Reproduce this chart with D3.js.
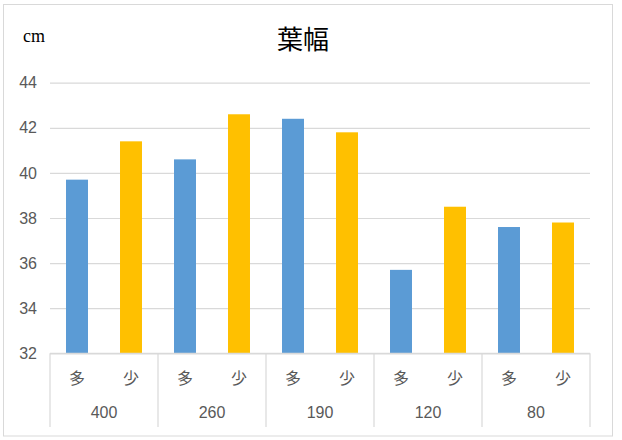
<!DOCTYPE html>
<html>
<head>
<meta charset="utf-8">
<script src="https://cdn.jsdelivr.net/npm/d3@7/dist/d3.min.js"></script>
<style>
  html, body { margin: 0; padding: 0; background: #fff; }
  svg { display: block; }
</style>
</head>
<body>
<svg id="chart" width="622" height="440"></svg>
<script>
// Leaf width (cm) by planting density group and amount
const groups = ["400", "260", "190", "120", "80"];
const series = ["多", "少"];
const valuesMany = [39.7, 40.6, 42.4, 35.7, 37.6];
const valuesFew  = [41.4, 42.6, 41.8, 38.5, 37.8];
const yTicks = [32, 34, 36, 38, 40, 42, 44];
const colors = ["#5B9BD5", "#FFC000"];

const rows = groups.map((g, i) => ({ group: g, vals: [valuesMany[i], valuesFew[i]] }));

const svg = d3.select("#chart");
const plotLeft = 50, plotRight = 590, plotTop = 82.7, plotBottom = 353.3, axisBottom = 427;
const textColor = "#595959";
const gridColor = "#D9D9D9";
const font = "'Liberation Sans', Arial, sans-serif";

// chart frame
svg.append("rect")
  .attr("x", 3.5).attr("y", 4.5).attr("width", 609).attr("height", 431.5)
  .attr("fill", "#fff").attr("stroke", "#D9D9D9").attr("stroke-width", 1);

const x = d3.scaleBand().domain(groups).range([plotLeft, plotRight]).padding(0);
const xs = d3.scaleBand().domain(series).range([0, x.bandwidth()])
  .paddingInner(0.593).paddingOuter(0.2965);
const y = d3.scaleLinear().domain([32, 44]).range([plotBottom, plotTop]);

// gridlines and y labels
const yAxis = svg.append("g")
  .attr("transform", `translate(${plotLeft},0)`)
  .call(d3.axisLeft(y).tickValues(yTicks).tickSize(-(plotRight - plotLeft)).tickPadding(13).tickFormat(d3.format("d")));
yAxis.select(".domain").remove();
yAxis.selectAll(".tick line").attr("stroke", gridColor).attr("stroke-width", 1.2);
yAxis.selectAll(".tick text")
  .attr("fill", textColor).style("font-family", font).style("font-size", "16px");

// bars
const gSel = svg.append("g").selectAll("g").data(rows).join("g")
  .attr("transform", d => `translate(${x(d.group)},0)`);
gSel.selectAll("rect")
  .data(d => d.vals.map((v, i) => ({ s: series[i], v, i })))
  .join("rect")
  .attr("x", d => xs(d.s))
  .attr("width", xs.bandwidth())
  .attr("y", d => y(d.v))
  .attr("height", d => y(32) - y(d.v))
  .attr("fill", d => colors[d.i]);

// category axis: baseline and separators
svg.append("line")
  .attr("x1", plotLeft).attr("x2", plotRight).attr("y1", plotBottom).attr("y2", plotBottom)
  .attr("stroke", gridColor).attr("stroke-width", 1.2);
const bounds = groups.map(g => x(g)).concat([plotRight]);
svg.append("g").selectAll("line").data(bounds).join("line")
  .attr("x1", d => d).attr("x2", d => d)
  .attr("y1", plotBottom).attr("y2", axisBottom)
  .attr("stroke", gridColor).attr("stroke-width", 1.2);

// series labels
gSel.selectAll("text.sub")
  .data(series).join("text").attr("class", "sub")
  .attr("x", d => xs(d) + xs.bandwidth() / 2)
  .attr("y", 378)
  .attr("dy", "0.35em")
  .attr("text-anchor", "middle")
  .attr("fill", textColor)
  .style("font-family", "'Noto Sans CJK JP', sans-serif")
  .style("font-size", "16px")
  .text(d => d);

// group labels
gSel.append("text")
  .attr("x", x.bandwidth() / 2)
  .attr("y", 412.5)
  .attr("dy", "0.35em")
  .attr("text-anchor", "middle")
  .attr("fill", textColor)
  .style("font-family", font)
  .style("font-size", "16px")
  .text(d => d.group);

// title and unit
svg.append("text")
  .attr("x", 303).attr("y", 40).attr("dy", "0.35em")
  .attr("text-anchor", "middle")
  .attr("fill", "#000")
  .style("font-family", "'Noto Sans CJK JP', sans-serif")
  .style("font-size", "26px")
  .text("葉幅");

svg.append("text")
  .attr("x", 23).attr("y", 41.7)
  .attr("fill", "#000")
  .style("font-family", "'Liberation Serif', 'Times New Roman', serif")
  .style("font-size", "18px")
  .text("cm");
</script>
</body>
</html>
